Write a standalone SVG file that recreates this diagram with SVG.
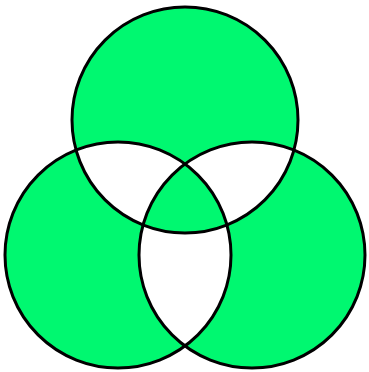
<svg xmlns="http://www.w3.org/2000/svg" width="369" height="372" viewBox="0 0 369 372">
<style>
.ring{fill:none;stroke:#000;stroke-width:3}
.fillxor{fill:#00F870;fill-rule:evenodd;stroke:none}
</style>
<rect width="369" height="372" fill="#fff"/>
<path class="fillxor" d="M72,120a113,113 0 1,0 226,0a113,113 0 1,0 -226,0Z M5,255a113,113 0 1,0 226,0a113,113 0 1,0 -226,0Z M139,255a113,113 0 1,0 226,0a113,113 0 1,0 -226,0Z"/>
<g id="circle-top"><circle class="ring" cx="185" cy="120" r="113"/></g>
<g id="circle-left"><circle class="ring" cx="118" cy="255" r="113"/></g>
<g id="circle-right"><circle class="ring" cx="252" cy="255" r="113"/></g>
<g id="connectors"></g>
</svg>
